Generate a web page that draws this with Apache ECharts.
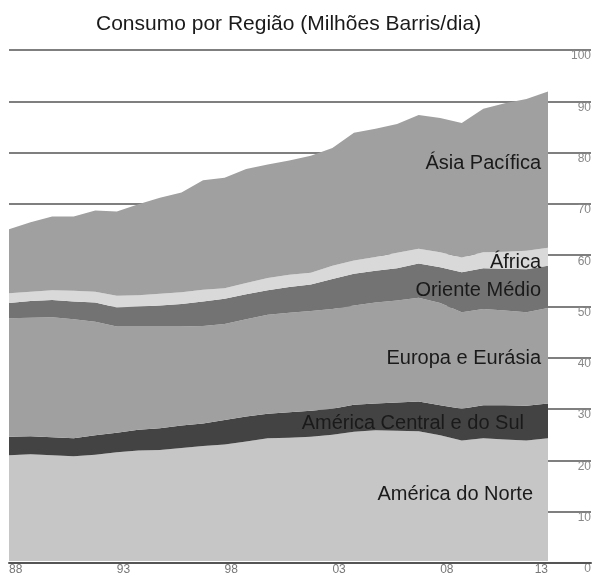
<!DOCTYPE html>
<html>
<head>
<meta charset="utf-8">
<script src="https://cdn.jsdelivr.net/npm/echarts@6/dist/echarts.min.js"></script>
<style>
  html, body { margin: 0; padding: 0; background: #fff; }
  #chart { width: 595px; height: 576px; }
</style>
</head>
<body>
<div id="chart"></div>
<script>
// anos 1988..2013
var years = ['1988', '1989', '1990', '1991', '1992', '1993', '1994', '1995', '1996', '1997', '1998', '1999', '2000',
             '2001', '2002', '2003', '2004', '2005', '2006', '2007', '2008', '2009', '2010', '2011', '2012', '2013'];

// milhões de barris/dia por região
var americaNorte   = [20.7, 20.9, 20.7, 20.5, 20.8, 21.3, 21.6, 21.7, 22.1, 22.5, 22.8, 23.4, 24.0,
                      24.1, 24.3, 24.7, 25.3, 25.6, 25.5, 25.4, 24.6, 23.6, 24.0, 23.8, 23.6, 24.0];
var americaCentral = [3.6, 3.5, 3.5, 3.5, 3.8, 3.8, 4.1, 4.3, 4.4, 4.4, 4.8, 4.9, 4.8,
                      5.0, 5.1, 5.1, 5.3, 5.2, 5.5, 5.8, 5.9, 6.2, 6.5, 6.7, 6.8, 6.8];
var europa         = [23.2, 23.2, 23.5, 23.3, 22.2, 20.8, 20.2, 19.9, 19.4, 19.1, 18.8, 19.0, 19.4,
                      19.5, 19.5, 19.5, 19.4, 19.8, 20.0, 20.3, 20.0, 18.9, 18.8, 18.5, 18.3, 18.7];
var orienteMedio   = [3.0, 3.3, 3.4, 3.5, 3.8, 3.7, 3.9, 4.1, 4.4, 4.8, 4.9, 4.9, 4.8,
                      5.0, 5.2, 5.9, 6.2, 6.2, 6.3, 6.7, 7.0, 7.8, 8.0, 8.2, 8.4, 8.3];
var africa         = [1.9, 1.8, 1.9, 2.1, 2.1, 2.3, 2.2, 2.3, 2.3, 2.3, 2.1, 2.2, 2.4,
                      2.4, 2.3, 2.6, 2.6, 2.7, 3.0, 2.9, 2.9, 2.9, 3.1, 3.3, 3.6, 3.5];
var asiaPacifico   = [12.5, 13.6, 14.4, 14.5, 15.9, 16.5, 17.8, 18.8, 19.5, 21.4, 21.6, 22.3, 22.2,
                      22.4, 22.9, 23.0, 25.0, 25.1, 25.2, 26.2, 26.3, 26.3, 28.1, 29.1, 29.7, 30.6];

var yTicks = [0, 10, 20, 30, 40, 50, 60, 70, 80, 90, 100];

var regioes = [
    { nome: 'América do Norte', dados: americaNorte, cor: '#c6c6c6' },
    { nome: 'América Central e do Sul', dados: americaCentral, cor: '#434343' },
    { nome: 'Europa e Eurásia', dados: europa, cor: '#a0a0a0' },
    { nome: 'Oriente Médio', dados: orienteMedio, cor: '#737373' },
    { nome: 'África', dados: africa, cor: '#d9d9d9' },
    { nome: 'Ásia Pacífica', dados: asiaPacifico, cor: '#a0a0a0' }
];

var fonte = '"Liberation Sans", Arial, sans-serif';

var myChart = echarts.init(document.getElementById('chart'));

var series = regioes.map(function (r) {
    return {
        name: r.nome,
        type: 'line',
        stack: 'total',
        xAxisIndex: 0,
        yAxisIndex: 0,
        symbol: 'none',
        lineStyle: { width: 0 },
        areaStyle: { color: r.cor, opacity: 1 },
        data: r.dados
    };
});

// rótulos das regiões (posições em pixels)
var rotulos = [
    { t: 'Ásia Pacífica', x: 541, y: 163 },
    { t: 'África', x: 541, y: 262 },
    { t: 'Oriente Médio', x: 541, y: 290 },
    { t: 'Europa e Eurásia', x: 541, y: 358 },
    { t: 'América Central e do Sul', x: 524, y: 423 },
    { t: 'América do Norte', x: 533, y: 494 }
];

var option = {
    animation: false,
    backgroundColor: '#fff',
    title: {
        text: 'Consumo por Região (Milhões Barris/dia)',
        left: 91,
        top: 9,
        textStyle: { fontFamily: fonte, fontSize: 21, fontWeight: 'normal', color: '#1a1a1a' }
    },
    grid: [
        { left: 9, right: 47, top: 50, bottom: 13 },
        { left: 9, right: 4, top: 50, bottom: 13 }
    ],
    xAxis: [
        {
            gridIndex: 0,
            type: 'category',
            boundaryGap: false,
            data: years,
            axisLine: { show: false },
            axisTick: { show: false },
            splitLine: { show: false },
            axisLabel: {
                interval: 4,
                formatter: function (v) { return v.slice(2); },
                align: 'left',
                alignMaxLabel: 'right',
                color: '#777',
                fontFamily: fonte,
                fontSize: 12,
                margin: 3
            }
        },
        {
            gridIndex: 1,
            type: 'value',
            min: 0,
            max: 1,
            z: 5,
            axisLabel: { show: false },
            axisTick: { show: false },
            splitLine: { show: false },
            axisLine: { lineStyle: { color: '#555', width: 2 } }
        }
    ],
    yAxis: [
        { gridIndex: 0, type: 'value', min: 0, max: 100, show: false },
        {
            gridIndex: 1,
            type: 'value',
            position: 'right',
            min: yTicks[0],
            max: yTicks[yTicks.length - 1],
            interval: 10,
            axisLine: { show: false },
            axisTick: { show: false },
            splitLine: { lineStyle: { color: '#555', width: 1.5 } },
            axisLabel: {
                inside: true,
                verticalAlign: 'top',
                color: '#888',
                fontFamily: fonte,
                fontSize: 12,
                margin: 0
            }
        }
    ],
    series: series,
    graphic: rotulos.map(function (r) {
        return {
            type: 'text',
            x: r.x,
            y: r.y,
            z: 10,
            style: {
                text: r.t,
                align: 'right',
                verticalAlign: 'middle',
                fontFamily: fonte,
                fontSize: 20,
                fill: '#1a1a1a'
            }
        };
    })
};

myChart.setOption(option);
</script>
</body>
</html>
